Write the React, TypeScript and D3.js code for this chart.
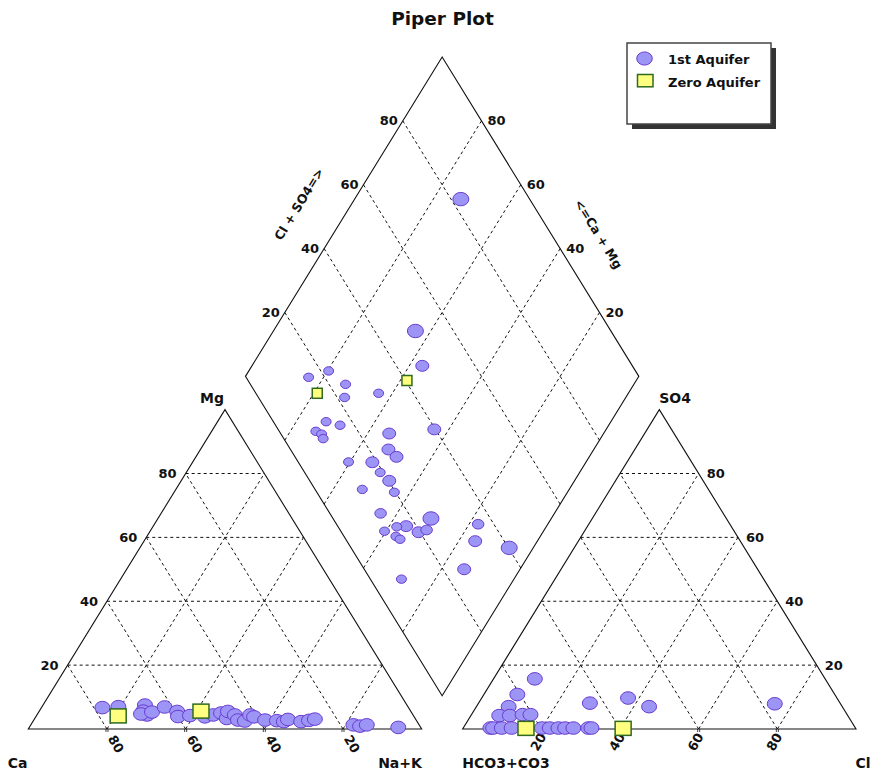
import React, { useEffect, useRef } from "react";
import * as d3 from "d3";

// Cation triangle, 1st aquifer: [Mg %, Na+K %]
const cation1st = [
  [6.7, 15.5], [7.0, 19.4], [7.5, 25.9], [5.6, 26.4], [4.4, 28.0], [4.7, 26.3],
  [5.3, 28.8], [6.9, 31.2], [5.5, 35.1], [3.9, 36.1], [4.2, 39.0], [3.8, 43.0],
  [4.4, 44.8], [5.0, 46.5], [3.3, 48.8], [5.5, 48.0], [4.4, 50.3], [2.8, 51.9],
  [2.5, 53.8], [4.4, 54.2], [3.8, 55.5], [2.8, 58.8], [2.6, 61.9], [2.3, 63.8],
  [3.0, 64.5], [2.3, 68.2], [2.7, 70.0], [3.1, 71.3], [1.3, 82.0], [0.9, 83.9],
  [1.3, 85.4], [0.5, 93.8],
];
const cationZero = [[4.1, 20.8], [5.6, 41.1]];

// Anion triangle, 1st aquifer: [SO4 %, Cl %]
const anion1st = [
  [15.7, 10.5], [10.8, 8.5], [7.0, 8.2], [4.2, 7.2], [4.2, 9.9], [4.5, 13.0],
  [4.5, 15.0], [8.1, 28.3], [9.7, 37.2], [7.0, 43.9], [7.9, 75.4],
  [0.3, 6.9], [0.3, 7.6], [0.3, 9.8], [0.3, 12.3], [0.3, 20.0], [0.3, 22.0],
  [0.3, 24.2], [0.3, 25.9], [0.3, 28.0], [0.3, 31.8], [0.3, 32.6],
];
const anionZero = [[0.2, 16.0], [0.2, 40.7]];

// Diamond, 1st aquifer: [Cl+SO4 %, Ca+Mg %, symbol size class]
const diamond1st = [
  [82.5, 73.0, 3], [50.3, 63.9, 3], [46.6, 56.7, 2], [22.0, 79.7, 1], [15.9, 83.8, 1],
  [24.2, 73.3, 1], [21.9, 71.5, 1], [31.2, 63.5, 1], [13.4, 72.4, 1], [16.4, 68.3, 1],
  [9.3, 73.5, 1], [10.3, 71.6, 1], [10.0, 70.5, 1], [27.6, 54.5, 2], [39.7, 43.7, 2],
  [24.9, 52.2, 2], [25.8, 49.0, 2], [12.8, 60.4, 1], [18.8, 54.3, 2], [19.2, 50.7, 1],
  [20.2, 47.1, 2], [12.0, 52.6, 1], [19.7, 44.0, 1], [12.9, 44.2, 1.5], [24.9, 30.6, 3],
  [17.4, 35.7, 2], [14.9, 38.0, 1], [19.6, 31.6, 2], [22.0, 29.9, 1.5], [11.1, 40.4, 1],
  [13.2, 36.7, 1], [13.8, 35.2, 1], [36.0, 17.7, 1.5], [32.6, 15.8, 2], [40.2, 6.1, 3],
  [25.4, 14.2, 2], [7.9, 28.6, 1],
];
const diamondZero = [[40.4, 58.3], [15.6, 79.1]];

const gridTicks = [20, 40, 60, 80];
const seriesNames = ["1st Aquifer", "Zero Aquifer"];

const W = 873;
const H = 776;
const GAP = 10.42;
const S60 = Math.sqrt(3) / 2;
const FONT = "'DejaVu Sans', Verdana, sans-serif";
const CIRCLE_FILL = "#9c95f6";
const CIRCLE_STROKE = "#6a3ccf";
const SQUARE_FILL = "#ffff80";
const SQUARE_STROKE = "#2f6a1e";

export default function App() {
  const ref = useRef<SVGSVGElement>(null);

  useEffect(() => {
    const svg = d3.select(ref.current);
    svg.selectAll("*").remove();

    const x = d3.scaleLinear().domain([0, 200 + GAP]).range([28.3, 856]);
    const y = d3.scaleLinear().domain([0, (200 + GAP) * S60]).range([729, 57]);

    // ternary point in a triangle with origin offset ox
    const tri = (ox: number, top: number, right: number): [number, number] => [
      x(ox + right + top / 2),
      y(top * S60),
    ];
    const OX_R = 100 + GAP;
    // diamond point: s = Cl+SO4, t = Ca+Mg
    const dia = (s: number, t: number): [number, number] => [
      x(100 + GAP / 2 + (s - t) / 2),
      y(GAP * S60 + (s + t) * S60),
    ];

    const line = d3.line();

    // title
    svg.append("text")
      .attr("x", 442.5).attr("y", 25)
      .attr("text-anchor", "middle")
      .style("font-family", FONT).style("font-weight", "bold").style("font-size", "18.5px")
      .attr("fill", "#111")
      .text("Piper Plot");

    const grid = svg.append("g")
      .attr("fill", "none").attr("stroke", "#111")
      .attr("stroke-width", 1).attr("stroke-dasharray", "3,3");

    // triangle grids
    [0, OX_R].forEach(ox => {
      gridTicks.forEach(k => {
        grid.append("path").attr("d", line([tri(ox, k, 0), tri(ox, k, 100 - k)]));
        grid.append("path").attr("d", line([tri(ox, 0, k), tri(ox, 100 - k, k)]));
        grid.append("path").attr("d", line([tri(ox, 0, 100 - k), tri(ox, 100 - k, 0)]));
      });
    });
    // diamond grid
    gridTicks.forEach(k => {
      grid.append("path").attr("d", line([dia(k, 0), dia(k, 100)]));
      grid.append("path").attr("d", line([dia(0, k), dia(100, k)]));
    });

    // outlines
    const outline = svg.append("g").attr("fill", "none").attr("stroke", "#111").attr("stroke-width", 1.1);
    [0, OX_R].forEach(ox => {
      outline.append("path").attr("d", line([tri(ox, 0, 0), tri(ox, 0, 100), tri(ox, 100, 0)]) + "Z");
      // small base ticks
      gridTicks.forEach(k => {
        const [px, py] = tri(ox, 0, ox === 0 ? 100 - k : k);
        [-1, 1].forEach(d =>
          outline.append("line")
            .attr("x1", px + d).attr("x2", px + d)
            .attr("y1", py).attr("y2", py + 3)
            .attr("stroke-width", 0.8));
      });
    });
    outline.append("path").attr("d", line([dia(0, 0), dia(100, 0), dia(100, 100), dia(0, 100)]) + "Z");

    const label = (g: any, px: number, py: number, txt: string, anchor: string, size: number, rot = 0) =>
      g.append("text")
        .attr("transform", `translate(${px},${py}) rotate(${rot})`)
        .attr("text-anchor", anchor)
        .attr("dominant-baseline", "central")
        .style("font-family", FONT).style("font-weight", "bold").style("font-size", size + "px")
        .attr("fill", "#111")
        .text(txt);

    const labels = svg.append("g");
    gridTicks.forEach(k => {
      // left triangle: Mg on left edge, Ca along base
      const [lx, ly] = tri(0, k, 0);
      label(labels, lx - 9, ly, String(k), "end", 13);
      const [bx] = tri(0, 0, 100 - k);
      label(labels, bx + 9, 744, String(k), "middle", 13, 60);
      // right triangle: SO4 on right edge, Cl along base
      const [rx, ry] = tri(OX_R, k, 100 - k);
      label(labels, rx + 8, ry, String(k), "start", 13);
      const [cx] = tri(OX_R, 0, k);
      label(labels, cx - 3, 742, String(k), "middle", 13, -60);
      // diamond
      const [dlx, dly] = dia(k, 100);
      label(labels, dlx - 5, dly, String(k), "end", 13);
      const [drx, dry] = dia(100, k);
      label(labels, drx + 6, dry, String(k), "start", 13);
    });

    label(labels, 299, 204, "Cl + SO4=>", "middle", 12.5, -58.4);
    label(labels, 598.5, 234, "<=Ca + Mg", "middle", 12.5, 58.4);

    label(labels, 212, 397.5, "Mg", "middle", 14);
    label(labels, 17.5, 762.5, "Ca", "middle", 14);
    label(labels, 400, 763, "Na+K", "middle", 14);
    label(labels, 675, 398, "SO4", "middle", 14);
    label(labels, 506, 763, "HCO3+CO3", "middle", 14);
    label(labels, 863, 763, "Cl", "middle", 14);

    // markers
    const marks = svg.append("g");
    const drawCircles = (pts: [number, number][], rx: number[]) => {
      marks.selectAll(null)
        .data(pts)
        .join("ellipse")
        .attr("cx", d => d[0]).attr("cy", d => d[1])
        .attr("rx", (d, i) => rx[i]).attr("ry", (d, i) => rx[i] * 0.84)
        .attr("fill", CIRCLE_FILL).attr("stroke", CIRCLE_STROKE).attr("stroke-width", 1);
    };
    const drawSquares = (pts: [number, number][], w: number, h: number) => {
      marks.selectAll(null)
        .data(pts)
        .join("rect")
        .attr("x", d => d[0] - w / 2).attr("y", d => d[1] - h / 2)
        .attr("width", w).attr("height", h)
        .attr("fill", SQUARE_FILL).attr("stroke", SQUARE_STROKE).attr("stroke-width", 1.5);
    };

    const sizeR = d3.scaleLinear().domain([1, 3]).range([5, 8]);

    drawCircles(cation1st.map(d => tri(0, d[0], d[1])), cation1st.map(() => 7.5));
    drawCircles(anion1st.map(d => tri(OX_R, d[0], d[1])), anion1st.map(() => 7.5));
    drawCircles(diamond1st.map(d => dia(d[0], d[1])), diamond1st.map(d => sizeR(d[2])));

    drawSquares(cationZero.map(d => tri(0, d[0], d[1])), 16, 14);
    drawSquares(anionZero.map(d => tri(OX_R, d[0], d[1])), 16, 14);
    drawSquares(diamondZero.map(d => dia(d[0], d[1])), 10, 10);

    // legend
    const lg = svg.append("g");
    lg.append("rect").attr("x", 632).attr("y", 48).attr("width", 144).attr("height", 81).attr("fill", "#333");
    lg.append("rect").attr("x", 627).attr("y", 43).attr("width", 144).attr("height", 81)
      .attr("fill", "#fff").attr("stroke", "#444").attr("stroke-width", 1.5);
    lg.append("ellipse").attr("cx", 644.5).attr("cy", 58.5).attr("rx", 7.8).attr("ry", 6.6)
      .attr("fill", CIRCLE_FILL).attr("stroke", CIRCLE_STROKE).attr("stroke-width", 1);
    lg.append("rect").attr("x", 637.5).attr("y", 74.5).attr("width", 15.5).attr("height", 12.3)
      .attr("fill", SQUARE_FILL).attr("stroke", SQUARE_STROKE).attr("stroke-width", 1.5);
    seriesNames.forEach((name, i) => {
      label(lg, 668, 59.5 + i * 22.5, name, "start", 13);
    });
  }, []);

  return (
    <svg
      ref={ref}
      width={W}
      height={H}
      style={{ position: "absolute", left: 0, top: 0, background: "#fff" }}
    />
  );
}
